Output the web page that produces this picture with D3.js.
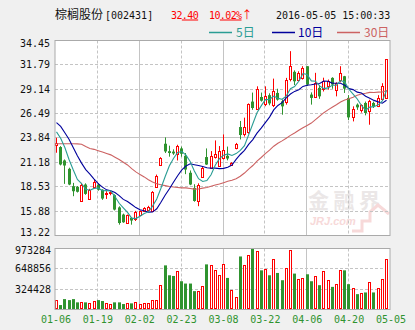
<!DOCTYPE html>
<html><head><meta charset="utf-8">
<script src="https://cdn.jsdelivr.net/npm/d3@7"></script>
<style>
html,body{margin:0;padding:0;background:#f0f0f0;}
svg{display:block;}
</style></head><body>
<svg id="c" width="415" height="330"></svg>
<script>
const xTickLabels = ["01-06","01-19","02-02","02-23","03-08","03-22","04-06","04-20","05-05"];
const yTicks = [34.45,31.79,29.14,26.49,23.84,21.18,18.53,15.88,13.22];
const volTicks = [973284,648856,324428];

const open  = [23.05,22.85,21.39,20.48,18.59,18.52,17.02,18.77,17.24,18.48,18.77,18.20,17.70,17.85,17.61,16.28,15.50,14.58,15.14,14.99,
               15.43,15.87,16.00,15.94,18.55,20.92,23.21,22.40,22.35,22.12,22.70,21.90,20.05,18.40,17.02,19.57,21.76,20.59,21.76,20.77,
               21.65,21.90,20.90,22.70,25.03,24.22,24.40,27.80,27.00,28.30,27.60,28.50,27.35,28.74,27.83,27.83,30.20,31.04,30.20,30.38,
               31.65,28.56,28.37,29.29,29.11,29.46,30.38,29.11,30.20,30.56,28.20,26.12,27.47,26.81,27.65,26.73,27.65,27.28,28.01,28.20];
const high  = [23.86,22.95,21.50,20.60,18.95,18.60,18.95,18.90,18.30,19.31,18.90,18.25,18.05,18.05,17.70,16.40,15.60,15.50,15.20,15.90,
               15.95,16.30,16.45,18.05,19.85,21.75,23.90,23.00,22.60,23.10,22.90,22.20,20.30,18.80,18.90,20.70,22.70,22.41,23.57,22.96,
               24.22,22.90,21.20,23.30,25.69,26.05,27.60,28.78,29.46,28.78,29.46,28.70,30.30,29.20,28.00,30.38,33.29,31.20,31.10,31.65,
               31.65,28.80,30.93,29.60,30.40,30.20,30.45,29.90,31.65,30.60,28.50,27.28,27.60,27.50,27.80,28.00,27.80,28.50,29.80,32.40];
const low   = [22.23,20.85,18.84,18.70,17.50,17.90,16.95,17.65,17.20,18.40,18.10,17.10,17.20,17.60,15.95,14.40,14.60,14.50,14.40,14.80,
               15.40,15.80,15.90,15.85,18.40,20.80,22.20,21.80,22.00,21.39,21.80,19.90,18.70,16.90,16.41,19.50,20.90,20.50,21.60,20.70,
               21.50,21.40,20.80,22.60,23.68,24.00,24.30,26.90,26.90,27.80,27.30,27.40,27.20,27.90,26.37,27.47,30.00,29.60,30.00,30.20,
               29.50,27.47,28.20,28.10,28.90,29.10,29.20,28.37,29.90,28.74,25.80,25.64,26.90,26.60,26.30,25.28,27.10,27.20,27.90,28.10];
const close = [23.25,20.95,20.84,18.77,18.04,17.98,18.77,17.75,18.20,19.06,18.20,17.24,17.85,17.95,16.04,14.58,14.66,15.43,14.85,15.80,
               15.87,16.16,16.28,17.98,19.70,21.65,22.37,22.20,22.15,22.96,22.12,20.40,18.77,16.98,18.77,20.59,20.95,21.87,22.12,22.41,
               22.48,21.60,21.10,23.13,24.16,25.03,27.50,27.10,29.14,27.90,28.42,27.60,28.92,28.01,27.28,30.20,31.65,30.01,30.93,31.47,
               29.65,28.20,29.84,28.37,30.01,30.01,29.65,29.84,30.93,29.21,26.08,27.03,27.17,27.39,26.56,27.83,27.28,28.20,29.45,32.40];
const volume = [150000,71000,166000,150000,166000,114000,114000,114000,98000,135000,150000,135000,98000,87000,114000,114000,87000,98000,98000,114000,
                82000,98000,98000,150000,150000,388000,704000,546000,535000,609000,451000,414000,414000,293000,293000,372000,720000,704000,625000,557000,
                731000,504000,309000,203000,846000,715000,862000,973284,926000,625000,652000,546000,810000,583000,467000,668000,942000,573000,493000,509000,
                562000,451000,530000,388000,609000,467000,361000,414000,625000,625000,404000,351000,245000,256000,272000,440000,272000,351000,493000,799000];
const ma5  = [24.50,23.80,22.80,21.50,20.37,19.32,18.88,18.26,18.15,18.35,18.40,18.09,18.11,18.06,17.46,16.73,16.22,15.73,15.11,15.06,
              15.32,15.62,15.79,16.42,17.20,18.36,19.62,20.78,21.61,22.27,22.36,21.97,21.28,20.25,19.41,19.10,19.21,19.83,20.86,21.59,
              21.97,22.10,21.94,22.14,22.49,23.00,24.18,25.38,26.59,27.33,28.01,28.03,28.40,28.17,28.05,28.40,29.21,29.43,30.01,30.85,
              30.74,30.05,30.02,29.51,29.21,29.29,29.58,29.58,30.09,29.93,29.14,28.62,28.08,27.38,26.85,27.20,27.25,27.45,27.86,29.03];
const ma10 = [25.50,25.10,24.40,23.70,22.80,21.90,21.10,20.40,19.90,19.36,18.86,18.49,18.19,18.10,17.90,17.56,17.15,16.92,16.59,16.26,
              16.03,15.92,15.76,15.77,16.13,16.84,17.61,18.29,19.02,19.73,20.36,20.78,21.03,20.93,20.84,20.73,20.59,20.56,20.55,20.50,
              20.53,20.65,20.89,21.50,22.04,22.49,23.14,23.66,24.37,24.91,25.51,26.11,26.89,27.38,27.69,28.21,28.62,28.91,29.09,29.45,
              29.57,29.63,29.72,29.76,30.03,30.01,29.81,29.80,29.80,29.57,29.21,29.10,28.83,28.73,28.39,28.17,27.93,27.77,27.62,27.94];
const ma30 = [23.21,23.21,23.21,23.21,23.21,23.20,23.15,22.90,22.70,22.60,22.45,22.30,22.15,22.00,21.75,21.50,21.20,20.90,20.50,20.15,
              19.85,19.60,19.30,19.05,18.85,18.75,18.65,18.55,18.50,18.45,18.41,18.40,18.33,18.27,18.29,18.38,18.45,18.59,18.72,18.83,
              18.97,19.12,19.23,19.40,19.67,20.02,20.45,20.84,21.31,21.71,22.13,22.51,22.94,23.27,23.52,23.81,24.12,24.38,24.67,24.95,
              25.20,25.46,25.83,26.21,26.59,26.90,27.19,27.46,27.75,27.98,28.10,28.28,28.48,28.62,28.70,28.80,28.79,28.83,28.84,28.99];

const RED = "#ff0000", GREEN = "#2f932f", C5 = "#2a9d94", C10 = "#00009c", C30 = "#cc6262";
const GRID = "#c4c4c4", BORDER = "#aaaaaa";
const MONO = "'DejaVu Sans Mono', monospace";
const CJK = "'Noto Sans CJK SC', sans-serif";

const svg = d3.select("#c");
const L = 55, R = 390, T = 40.5, B = 235.5, VT = 248.5, VB = 309.5;
const n = close.length;

const xb = d3.scaleBand().domain(d3.range(n)).range([54.4, 388.6]);
const xc = i => Math.round(xb(i) + xb.bandwidth() / 2 - 0.5) + 0.5;
const xg = d3.scaleLinear().domain([0, xTickLabels.length - 1]).range([L, R]);
const y = d3.scaleLinear().domain([yTicks[yTicks.length - 1], yTicks[0]]).range([B, T]);
const yv = d3.scaleLinear().domain([0, volTicks[0]]).range([VB, VT]);

// backgrounds
svg.append("rect").attr("x", L).attr("y", T).attr("width", R - L).attr("height", B - T).attr("fill", "#fff");
svg.append("rect").attr("x", L).attr("y", VT).attr("width", R - L).attr("height", VB - VT).attr("fill", "#fff");

// watermark
const wm = svg.append("g");
wm.append("text").attr("x", 308).attr("y", 208).attr("font-family", CJK).attr("font-size", 21).attr("font-weight", "bold")
  .attr("fill", "#ebe7e7").attr("textLength", 72).text("金融界");
wm.append("text").attr("x", 310).attr("y", 225).attr("font-family", "'Liberation Sans', sans-serif").attr("font-size", 11)
  .attr("font-style", "italic").attr("font-weight", "bold").attr("fill", "#f7d9d9").text("JRJ.com");
wm.append("path").attr("d", "M352,231 L362,231 L362,221 L370,221 L370,212 L378,205 L389,214")
  .attr("fill", "none").attr("stroke", "#f7d9d9").attr("stroke-width", 3);

// grids
const g = svg.append("g");
function vgrid(top, bot) {
  for (let k = 1; k < xTickLabels.length - 1; k++) {
    const xx = Math.round(xg(k)) + 0.5;
    g.append("line").attr("x1", xx).attr("x2", xx).attr("y1", top).attr("y2", bot)
      .attr("stroke", GRID).attr("stroke-dasharray", k % 2 === 0 ? null : "3,2");
  }
}
vgrid(T, B); vgrid(VT, VB);
yTicks.forEach((t, k) => {
  if (k === 0 || k === yTicks.length - 1) return;
  const yy = Math.round(y(t) - 0.5) + 0.5;
  g.append("line").attr("x1", L).attr("x2", R).attr("y1", yy).attr("y2", yy)
    .attr("stroke", GRID).attr("stroke-dasharray", k === 4 ? null : "3,2");
});
volTicks.slice(1).forEach(t => {
  const yy = Math.round(yv(t) - 0.5) + 0.5;
  g.append("line").attr("x1", L).attr("x2", R).attr("y1", yy).attr("y2", yy)
    .attr("stroke", GRID).attr("stroke-dasharray", "3,2");
});

// candles
const cg = svg.append("g");
d3.range(n).forEach(i => {
  const up = close[i] >= open[i];
  const col = up ? RED : GREEN;
  const cx = xc(i);
  cg.append("line").attr("x1", cx).attr("x2", cx).attr("y1", y(high[i])).attr("y2", y(low[i])).attr("stroke", col);
  const top = y(Math.max(open[i], close[i])), bot = y(Math.min(open[i], close[i]));
  if (up) {
    cg.append("rect").attr("x", cx - 1).attr("y", Math.round(top) + 0.5).attr("width", 2)
      .attr("height", Math.max(1, Math.round(bot - top))).attr("fill", "#fff").attr("stroke", col);
  } else {
    cg.append("rect").attr("x", cx - 1.5).attr("y", top).attr("width", 3)
      .attr("height", Math.max(1, bot - top)).attr("fill", col);
  }
  // volume
  const vt = yv(volume[i]);
  if (up) {
    cg.append("rect").attr("x", cx - 1).attr("y", Math.round(vt) + 0.5).attr("width", 2)
      .attr("height", Math.max(0, Math.round(VB - vt) - 1)).attr("fill", "#fff").attr("stroke", col);
  } else {
    cg.append("rect").attr("x", cx - 1.5).attr("y", vt).attr("width", 3).attr("height", VB - vt).attr("fill", col);
  }
});

// MA lines
const line = d3.line().x((d, i) => xb(i) + xb.bandwidth() / 2).y(d => y(d));
[[ma30, C30], [ma10, C10], [ma5, C5]].forEach(([arr, c]) => {
  svg.append("path").attr("d", line(arr)).attr("fill", "none").attr("stroke", c).attr("stroke-width", 1.1);
});

// borders
svg.append("rect").attr("x", L).attr("y", T).attr("width", R - L).attr("height", B - T)
  .attr("fill", "none").attr("stroke", BORDER);
svg.append("rect").attr("x", L).attr("y", VT).attr("width", R - L).attr("height", VB - VT)
  .attr("fill", "none").attr("stroke", BORDER);

// axis labels
yTicks.forEach((t, k) => {
  let yy = y(t);
  if (k === 0) yy += 3;
  if (k === yTicks.length - 1) yy -= 3;
  svg.append("text").attr("x", 50).attr("y", yy).attr("dy", "0.35em").attr("text-anchor", "end")
    .attr("font-family", MONO).attr("font-size", 10).attr("fill", "#111").text(t.toFixed(2));
});
volTicks.forEach((t, k) => {
  let yy = yv(t);
  if (k === 0) yy += 1.5;
  svg.append("text").attr("x", 51).attr("y", yy).attr("dy", "0.35em").attr("text-anchor", "end")
    .attr("font-family", MONO).attr("font-size", 10).attr("fill", "#111").text(t);
});
xTickLabels.forEach((t, k) => {
  svg.append("text").attr("x", xg(k) + 1).attr("y", 323).attr("text-anchor", "middle")
    .attr("font-family", MONO).attr("font-size", 10).attr("fill", "#2f932f").text(t);
});

// title
svg.append("text").attr("x", 55).attr("y", 19).attr("font-family", CJK).attr("font-size", 12).attr("fill", "#111").text("棕榈股份");
svg.append("text").attr("x", 105).attr("y", 18.5).attr("font-family", MONO).attr("font-size", 10).attr("fill", "#111").text("[002431]");
const pt = svg.append("text").attr("x", 171).attr("y", 18.5).attr("font-family", MONO).attr("font-size", 10)
  .attr("fill", RED).attr("letter-spacing", -0.6);
pt.append("tspan").text("32");
pt.append("tspan").attr("text-decoration", "underline").text(".40");
const pc = svg.append("text").attr("x", 209).attr("y", 18.5).attr("font-family", MONO).attr("font-size", 10)
  .attr("fill", RED).attr("letter-spacing", -0.6);
pc.append("tspan").text("10");
pc.append("tspan").attr("text-decoration", "underline").text(".02%");
pc.append("tspan").attr("font-family", CJK).attr("font-size", 11).text("↑");
svg.append("text").attr("x", 276).attr("y", 18.5).attr("font-family", MONO).attr("font-size", 10).attr("fill", "#111")
  .text("2016-05-05 15:00:33");

// legend
const legend = [["5日", C5, 209, 236], ["10日", C10, 272, 298], ["30日", C30, 337, 364]];
legend.forEach(([lab, c, x0, tx]) => {
  svg.append("line").attr("x1", x0).attr("x2", x0 + 23).attr("y1", 32.5).attr("y2", 32.5).attr("stroke", c).attr("stroke-width", 1.5);
  svg.append("text").attr("x", tx).attr("y", 37).attr("font-family", CJK).attr("font-size", 12).attr("fill", c).text(lab);
});
</script>
</body></html>
